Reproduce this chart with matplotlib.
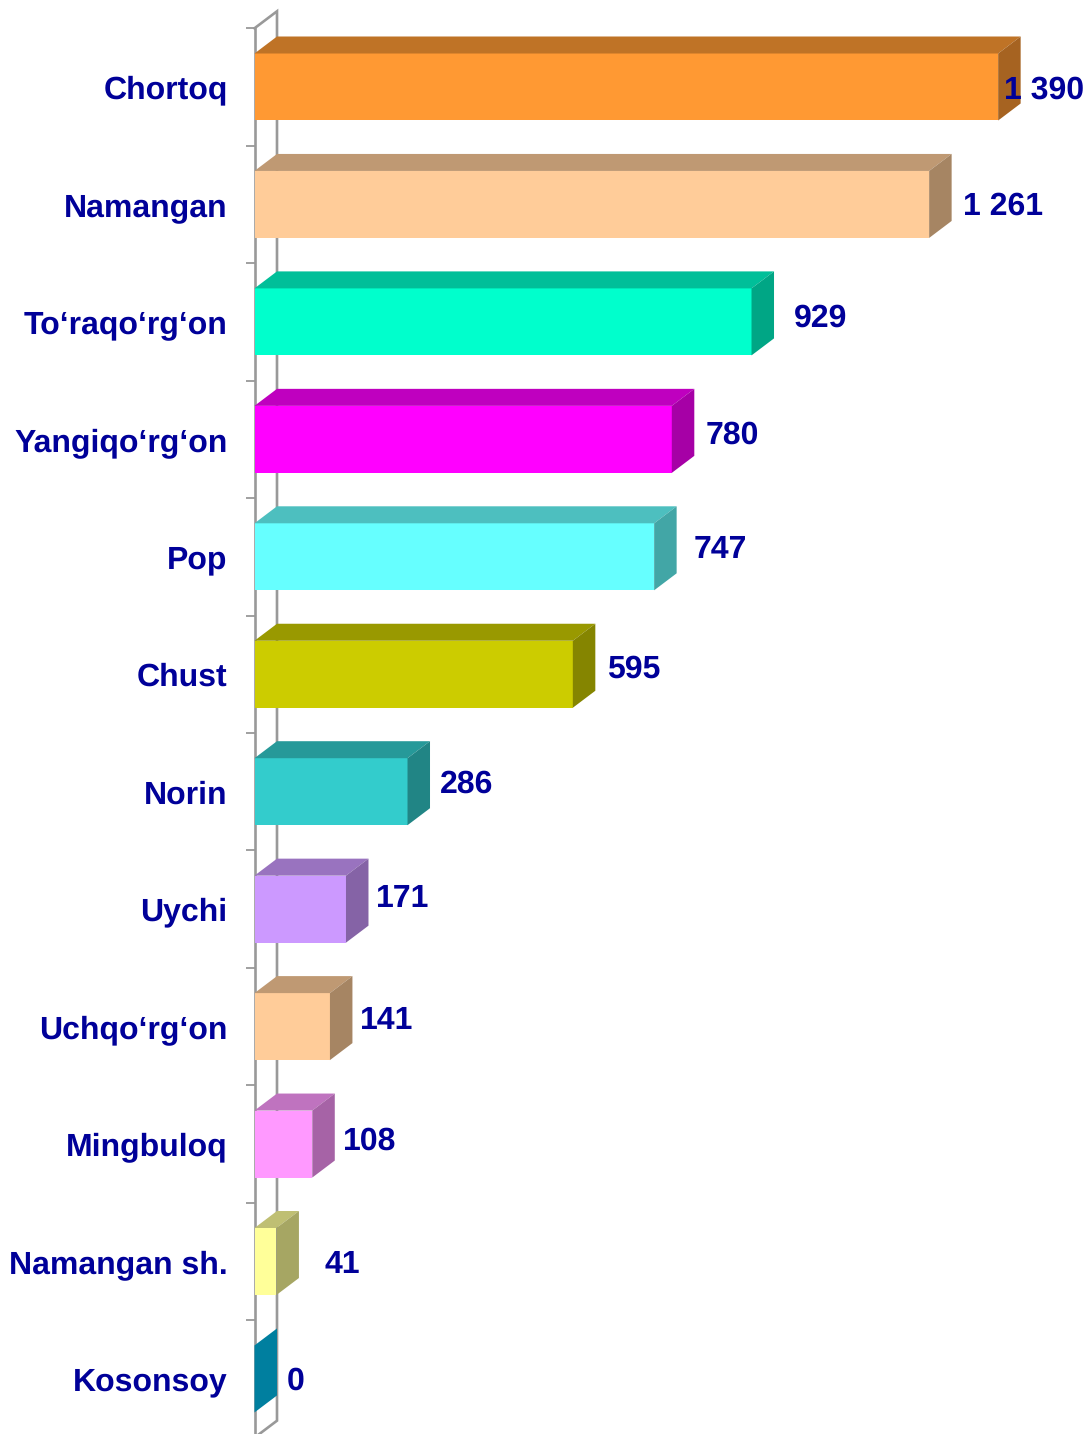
import matplotlib
matplotlib.use("Agg")
import matplotlib.pyplot as plt
from matplotlib.colors import to_rgb

plt.rcParams['font.family'] = ['Liberation Sans', 'DejaVu Sans']
plt.rcParams['text.hinting'] = 'no_hinting'

districts = ["Chortoq", "Namangan", "To‘raqo‘rg‘on", "Yangiqo‘rg‘on", "Pop", "Chust",
             "Norin", "Uychi", "Uchqo‘rg‘on", "Mingbuloq", "Namangan sh.", "Kosonsoy"]
values = [1390, 1261, 929, 780, 747, 595, 286, 171, 141, 108, 41, 0]
value_labels = ["1 390", "1 261", "929", "780", "747", "595", "286", "171", "141", "108", "41", "0"]
colors = ["#FF9933", "#FFCC99", "#00FFCC", "#FF00FF", "#66FFFF", "#CCCC00",
          "#33CCCC", "#CC99FF", "#FFCC99", "#FF99FF", "#FFFF99", "#00C3F5"]

# hand placed data labels, pixels away from the bar end
label_dx = [6, 34, 42.5, 34, 39.5, 34, 32.5, 30, 30, 30.5, 48.5, 32.5]
label_dy = [-3, -2, 3, 4, 7, 4.5, 7, 10, 6, 3, -3, -2]

px_per_unit = 0.535
px_per_row = 117.45
depth_x = 22.5 / px_per_unit
depth_y = 17 / px_per_row
bar_h = 67 / px_per_row
text_color = "#000099"
wall_color = "#999999"


def shade(color, k):
    return tuple(c * k for c in to_rgb(color))


fig = plt.figure(figsize=(10.85, 14.34), dpi=100)
ax = fig.add_axes([0, 0, 1, 1])

# back wall of the 3d frame
n = len(values)
ax.plot([0, depth_x, depth_x, 0], [-0.5, -0.5 - depth_y, n - 0.5 - depth_y, n - 0.5],
        color=wall_color, lw=1.9, zorder=1, solid_joinstyle="miter")

for i, v in enumerate(values):
    top = i - bar_h / 2
    bottom = i + bar_h / 2
    ax.barh(i, v, height=bar_h, color=colors[i], linewidth=0, zorder=3)
    if v > 0:
        ax.fill([0, depth_x, v + depth_x, v], [top, top - depth_y, top - depth_y, top],
                color=shade(colors[i], 0.75), linewidth=0, zorder=3)
    ax.fill([v, v + depth_x, v + depth_x, v],
            [top, top - depth_y, bottom - depth_y, bottom],
            color=shade(colors[i], 0.65), linewidth=0, zorder=3)
    ax.annotate(value_labels[i], xy=(v, i), xytext=(label_dx[i], label_dy[i]),
                textcoords="offset pixels", ha="left", va="center",
                fontsize=23, fontweight="bold", color=text_color, zorder=5)

for s in ["top", "right", "bottom"]:
    ax.spines[s].set_visible(False)
ax.spines["left"].set_position(("data", 0))
ax.spines["left"].set_color(wall_color)
ax.spines["left"].set_linewidth(1.9)
ax.spines["left"].set_zorder(2)
ax.spines["left"].set_bounds(-0.5, n - 0.5)

ax.set_xticks([])
ax.set_yticks([i - 0.5 for i in range(n + 1)])
ax.set_yticklabels([])
ax.tick_params(axis="y", which="major", length=6.5, width=1.3, color=wall_color)
ax.set_yticks(range(n), minor=True)
ax.set_yticklabels(districts, minor=True, fontsize=23, fontweight="bold", color=text_color)
ax.tick_params(axis="y", which="minor", length=0, pad=19.3)
ax.patch.set_visible(False)

# limits go last, the lowest tick sits just off the canvas and would stretch them
ax.set_xlim(-254.5 / px_per_unit, (1085 - 254.5) / px_per_unit)
ax.set_ylim((1434 - 87) / px_per_row, -87 / px_per_row)

fig.savefig("out.png", dpi=100)
